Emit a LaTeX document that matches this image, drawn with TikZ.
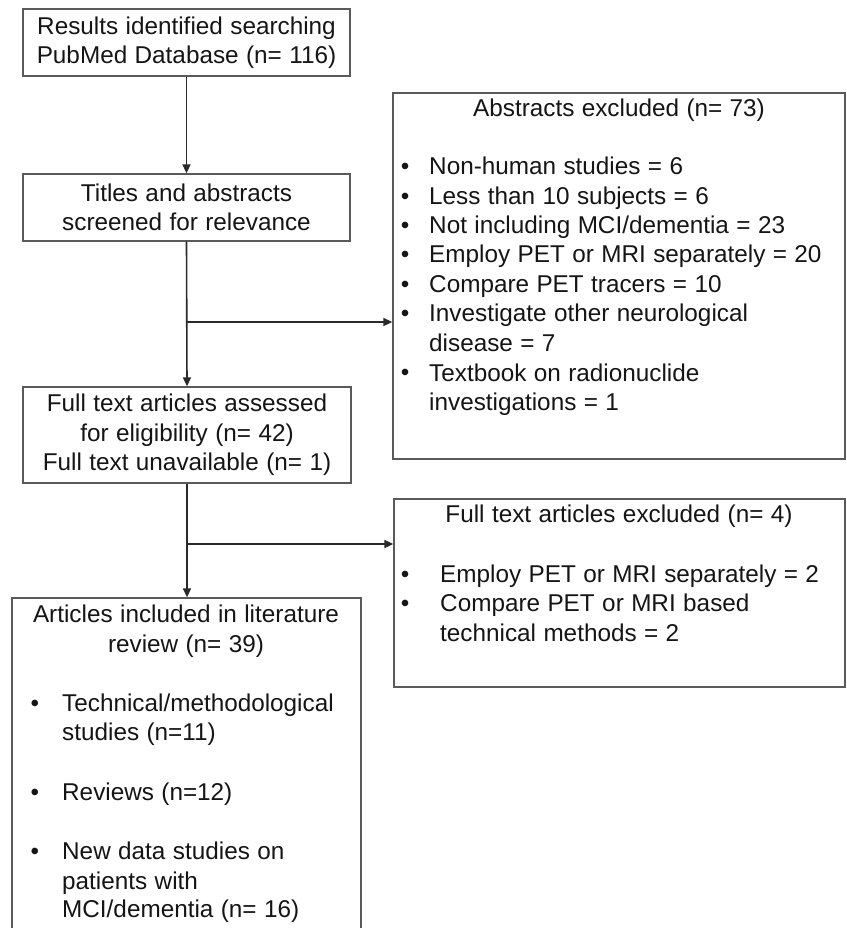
\documentclass[tikz,border=0pt]{standalone}
\usepackage{fontspec}
\setmainfont{Liberation Sans}[WordSpace={1.1,0.3,0.3}]
\usetikzlibrary{arrows.meta}
\definecolor{boxgray}{HTML}{5A5A5A}
\definecolor{linegray}{HTML}{2A2A2A}
\definecolor{textblack}{HTML}{151515}
\begin{document}
\begin{tikzpicture}[x=1pt,y=-1pt,
  box/.style={draw=boxgray, line width=1.3pt, rectangle, inner sep=0pt},
  txt/.style={font=\fontsize{24.3}{29.5}\selectfont, text=textblack, inner sep=0pt, align=center},
  lt/.style={txt, anchor=mid west},
  ct/.style={txt, anchor=mid},
  conn/.style={draw=linegray, line width=1.6pt},
  arr/.style={conn, -{Triangle[length=9pt,width=8pt]}}
]
\clip (0,0) rectangle (846,928);
\fill[white] (0,0) rectangle (846,928);

% left column
\node[box, txt, minimum width=327pt, minimum height=67pt] (b1) at (186.5,42.5)
  {Results identified searching\\PubMed Database (n= 116)};
\node[box, txt, minimum width=327pt, minimum height=67pt] (b2) at (186.5,207.5)
  {Titles and abstracts\\screened for relevance};
\node[box, txt, minimum width=328pt, minimum height=96pt] (b3) at (187,435)
  {Full text articles assessed\\for eligibility (n= 42)\\Full text unavailable (n= 1)};
\node[box, minimum width=349pt, minimum height=337pt] (b4) at (186.5,766.5) {};

% right boxes
\node[box, minimum width=452pt, minimum height=366pt] (r1) at (619,276) {};
\node[box, minimum width=451pt, minimum height=188pt] (r2) at (619.5,593) {};

% text of r1
\node[ct] (r1t) at (619,114) {Abstracts excluded (n= 73)};
\foreach \y/\n in {172/1,202/2,231/3,260/4,290/5,319/6,378/7}
  \node[ct] (r1b\n) at (405,\y) {\textbullet};
\node[lt] (r1l1) at (429,172) {Non-human studies = 6};
\node[lt] (r1l2) at (429,202) {Less than 10 subjects = 6};
\node[lt] (r1l3) at (429,231) {Not including MCI/dementia = 23};
\node[lt] (r1l4) at (429,260) {Employ PET or MRI separately = 20};
\node[lt] (r1l5) at (429,290) {Compare PET tracers = 10};
\node[lt] (r1l6) at (429,319) {Investigate other neurological};
\node[lt] (r1l7) at (429,349) {disease = 7};
\node[lt] (r1l8) at (429,379) {Textbook on radionuclide};
\node[lt] (r1l9) at (429,408) {investigations = 1};

% text of r2
\node[ct] (r2t) at (619,520) {Full text articles excluded (n= 4)};
\node[ct] (r2b1) at (405,580) {\textbullet};
\node[ct] (r2b2) at (405,609) {\textbullet};
\node[lt] (r2l1) at (440,580) {Employ PET or MRI separately = 2};
\node[lt] (r2l2) at (440,609) {Compare PET or MRI based};
\node[lt] (r2l3) at (440,639) {technical methods = 2};

% text of b4
\node[ct] (b4t1) at (186,620) {Articles included in literature};
\node[ct] (b4t2) at (186,650) {review (n= 39)};
\node[ct] (b4b1) at (35,709) {\textbullet};
\node[ct] (b4b2) at (35,798) {\textbullet};
\node[ct] (b4b3) at (35,857) {\textbullet};
\node[lt] (b4l1) at (62,709) {Technical/methodological};
\node[lt] (b4l2) at (62,738) {studies (n=11)};
\node[lt] (b4l3) at (62,798) {Reviews (n=12)};
\node[lt] (b4l4) at (62,857) {New data studies on};
\node[lt] (b4l5) at (62,887) {patients with};
\node[lt] (b4l6) at (62,915) {MCI/dementia (n= 16)};

% connectors
\coordinate (j1) at (b2.south |- 0,322);
\coordinate (j2) at (b3.south |- 0,544);
\draw[arr] (b1.south) -- (b2.north);
\draw[arr] (b2.south) -- (b3.north);
\draw[arr] (j1) -- (j1 -| r1.west);
\draw[arr] (b3.south) -- (b3.south |- b4.north);
\draw[arr] (j2) -- (j2 -| r2.west);
\end{tikzpicture}
\end{document}
